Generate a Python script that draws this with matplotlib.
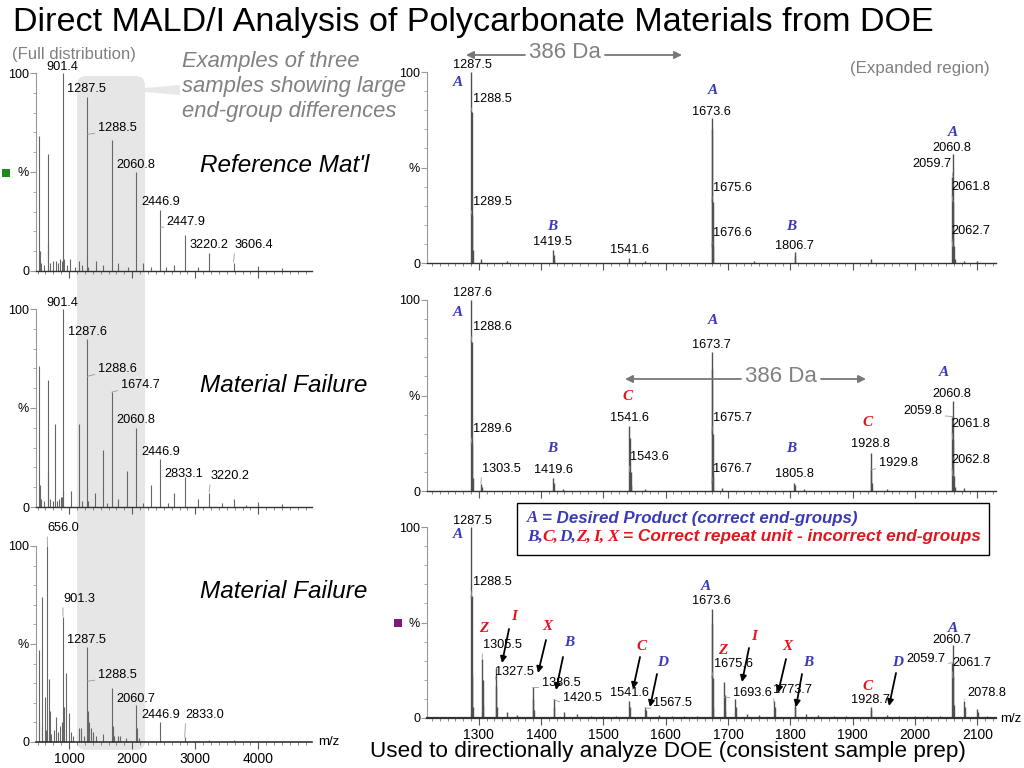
import matplotlib
matplotlib.use('Agg')
import matplotlib.pyplot as plt
from matplotlib.patches import FancyBboxPatch, Polygon, Rectangle, FancyArrowPatch
from matplotlib.ticker import MultipleLocator, FixedLocator
from matplotlib.transforms import Affine2D

# ---------------- data ----------------
# Left panels: full distribution (m/z, relative intensity %)
L1_MZ = [530, 535, 560, 600, 659, 668, 700, 740, 787, 830, 860, 880, 901.4, 915, 960, 1020, 1100, 1159, 1200,
         1287.5, 1305, 1422, 1541, 1673.6, 1782, 1928, 2060.8, 2168, 2300, 2446.9, 2540, 2669, 2833, 3050,
         3220.2, 3606.4, 3992, 4380]
L1_INT = [68, 10, 4, 3, 59, 14, 4, 5, 5, 4, 6, 5, 100, 6, 3, 6, 2, 5, 3,
          88, 2, 5, 3, 66, 4, 2, 50, 4, 2, 31, 2, 3, 18, 2,
          9, 4, 2.5, 1.5]
L2_MZ = [530, 535, 560, 600, 659, 665, 700, 740, 778, 800, 840, 870, 880, 901.4, 910, 1030, 1154, 1200,
         1287.6, 1300, 1417, 1535, 1600, 1674.7, 1782, 1912, 2060.8, 2168, 2298, 2446.9, 2560, 2670,
         2833.1, 3046, 3220.2, 3430, 3606, 3800, 3992, 4380]
L2_INT = [71, 11, 4, 3, 64, 18, 4, 3, 42, 3, 4, 5, 5, 100, 8, 8, 42, 3,
          85, 3, 7, 29, 2, 58, 4, 18, 40, 2, 11, 24, 2, 7,
          15, 4, 7, 2, 4, 1, 2.5, 1.5]
L3_MZ = [519, 525, 565, 575, 622, 640, 656.0, 674, 690, 720, 760, 798, 820, 855, 880, 901.3, 925, 953, 994,
         1030, 1060, 1159, 1190, 1240, 1287.5, 1302, 1320, 1345, 1386, 1420, 1541, 1673, 1690, 1711, 1773,
         1806, 1900, 2060.7, 2078, 2100, 2446.9, 2833.0, 3220, 3606, 3992]
L3_INT = [47, 10, 74, 8, 23, 6, 100, 32, 16, 4, 6, 13, 5, 8, 10, 64, 18, 35, 15,
          5, 3, 7, 7, 3, 48.6, 16, 10, 7, 5, 3, 4, 27.5, 8, 3, 3,
          3, 2, 19, 7, 2, 10, 2.5, 1.2, 1, 0.6]

# Right panels: expanded region
R1_MZ = [1287.5, 1288.5, 1289.5, 1290.5, 1303.5, 1345, 1419.5, 1420.5, 1421.5, 1541.6, 1567.5,
         1673.6, 1674.6, 1675.6, 1676.6, 1742, 1806.7, 1807.7, 1928.8,
         2059.7, 2060.8, 2061.8, 2062.7, 2063.7, 2078, 2100]
R1_INT = [100, 79, 25, 7, 2, 1.2, 6.6, 4, 1.5, 2.6, 1,
          76, 70, 32, 9, 1, 5.6, 3.5, 2,
          45, 57, 32, 9, 2, 1, 0.8]
R2_MZ = [1287.6, 1288.6, 1289.6, 1290.6, 1303.5, 1304.5, 1419.6, 1420.6, 1435, 1541.6, 1542.6, 1543.6,
         1544.6, 1567, 1673.7, 1674.7, 1675.7, 1676.7, 1691, 1805.8, 1806.8, 1822, 1928.8, 1929.8, 1930.8,
         1955, 2059.8, 2060.8, 2061.8, 2062.8, 2063.8, 2078]
R2_INT = [100, 78, 24.6, 7, 3.7, 2, 7, 4, 1, 34, 28, 10,
          3, 1.2, 73, 64, 30, 8, 1.5, 4.4, 3, 1, 20, 11, 4,
          1, 39, 47, 27, 8, 2, 1.5]
R3_MZ = [1287.5, 1288.5, 1289.5, 1290.5, 1305.5, 1306.5, 1307.5, 1327.5, 1328.5, 1329.5, 1345.5, 1362,
         1386.5, 1387.5, 1388.5, 1420.5, 1421.5, 1437, 1458, 1480, 1500, 1520, 1541.6, 1542.6,
         1567.5, 1568.5, 1590, 1610, 1630, 1650, 1673.6, 1674.6, 1675.6, 1676.6, 1693.6, 1694.6, 1695.6,
         1711.6, 1712.6, 1731, 1750, 1773.7, 1774.7, 1806.7, 1807.7, 1825, 1845, 1870, 1890,
         1928.7, 1929.7, 1955, 1975, 2000, 2020, 2040, 2059.7, 2060.7, 2061.7, 2062.7,
         2078.8, 2079.8, 2100, 2101, 2115]
R3_INT = [100, 64, 22, 6, 31, 20, 7, 26, 17, 6, 3, 1.5,
          16, 10, 4, 10, 6, 3, 2, 1, 1.2, 1, 9, 6,
          6, 4, 1.5, 1, 1.2, 1, 57, 50, 21, 6, 19, 12, 4,
          10, 6, 2, 1.5, 9, 6, 9.6, 6, 2, 1.5, 1, 1,
          6, 4, 1.5, 1, 1, 1, 1.2, 29, 38, 22, 7,
          9, 6, 4.5, 3, 1]

LEFT_XTICKS = [1000, 2000, 3000, 4000]
RIGHT_XTICKS = [1300, 1400, 1500, 1600, 1700, 1800, 1900, 2000, 2100]
Y_TICKS = [0, 50, 100]
Y_LABELS = ['0', '%', '100']

# ---------------- figure ----------------
W, H = 1024, 768
fig = plt.figure(figsize=(W / 100, H / 100), dpi=100)
SANS = ['Liberation Sans', 'DejaVu Sans']
SERIF = ['Liberation Serif', 'DejaVu Serif']
plt.rcParams['font.family'] = SANS
PX = Affine2D().scale(1 / W, 1 / H) + fig.transFigure

GRAY_TXT = '#808080'
BLUE = '#3a3ab8'
RED = '#e3141c'
PEAK = '#505050'
LBL = 9.2


def add_axes_px(x0, x1, ytop, ybot):
    return fig.add_axes([x0 / W, 1 - ybot / H, (x1 - x0) / W, (ybot - ytop) / H])


def style(ax, xlim, ticks, minor, show_labels, base_lw=1.0):
    ax.set_facecolor('none')
    ax.set_xlim(*xlim)
    ax.set_ylim(0, 100)
    for s in ['top', 'right']:
        ax.spines[s].set_visible(False)
    ax.spines['left'].set_color('#9a9a9a')
    ax.spines['left'].set_linewidth(0.8)
    ax.spines['bottom'].set_color('#333333')
    ax.spines['bottom'].set_linewidth(base_lw)
    ax.xaxis.set_major_locator(FixedLocator(ticks))
    ax.xaxis.set_minor_locator(MultipleLocator(minor))
    ax.yaxis.set_major_locator(FixedLocator(Y_TICKS))
    ax.set_yticklabels(Y_LABELS)
    ax.yaxis.set_minor_locator(MultipleLocator(10))
    ax.tick_params(axis='y', which='major', length=4, color='#9a9a9a', labelsize=9, pad=1)
    ax.tick_params(axis='y', which='minor', length=2, color='#9a9a9a')
    ax.tick_params(axis='x', which='major', length=5, color='#555555', labelsize=10, pad=2)
    ax.tick_params(axis='x', which='minor', length=2.5, color='#777777')
    if not show_labels:
        ax.tick_params(axis='x', labelbottom=False)


# background highlight band behind left panels
fig.add_artist(FancyBboxPatch((77, H - 750), 68, 674, boxstyle='round,pad=0,rounding_size=9',
                              transform=PX, facecolor='#e6e6e6', edgecolor='none', zorder=-2))
fig.add_artist(Polygon([(145, H - 88), (180, H - 85), (180, H - 95), (145, H - 92)], closed=True,
                       transform=PX, facecolor='#e8e8e8', edgecolor='none', zorder=-2))

LXLIM = (475, 4850)
RXLIM = (1217, 2130)

axL = [add_axes_px(36, 312, 73, 271), add_axes_px(36, 312, 309, 507), add_axes_px(36, 312, 546, 742)]
axR = [add_axes_px(427, 996, 72, 263), add_axes_px(427, 996, 300, 491), add_axes_px(427, 996, 527, 718)]

for i, ax in enumerate(axL):
    style(ax, LXLIM, LEFT_XTICKS, 125, i == 2, 1.2 if i == 2 else 1.0)
for i, ax in enumerate(axR):
    style(ax, RXLIM, RIGHT_XTICKS, 12.5, i == 2, 1.6 if i == 2 else 1.0)

for ax, mz, it in zip(axL, [L1_MZ, L2_MZ, L3_MZ], [L1_INT, L2_INT, L3_INT]):
    ax.vlines(mz, 0, it, color='#666666', lw=0.8, clip_on=False)
for ax, mz, it in zip(axR, [R1_MZ, R2_MZ, R3_MZ], [R1_INT, R2_INT, R3_INT]):
    ax.vlines(mz, 0, it, color=PEAK, lw=1.0, clip_on=False)


def plabel(ax, s, x, y, target=None, side='left', size=LBL):
    if target is None:
        fig.text(x, H - y, s, transform=PX, ha='center', va='center', fontsize=size, zorder=5)
    else:
        rel = (0, 0.1) if side == 'left' else (1, 0.1)
        ax.annotate(s, xy=target, xycoords='data', xytext=(x, H - y), textcoords=PX,
                    ha='center', va='center', fontsize=size, annotation_clip=False, zorder=5,
                    arrowprops=dict(arrowstyle='-', color='#999999', lw=0.6, shrinkA=0, shrinkB=0,
                                    relpos=rel))


# left panel labels
for s, x, y, t in [("901.4", 62, 67, None), ("1287.5", 87, 89, None), ("1288.5", 117, 128, (1287.5, 69)),
                   ("2060.8", 136, 165, None), ("2446.9", 161, 202, None),
                   ("2447.9", 186, 222, (2446.9, 22)), ("3220.2", 209, 245, None),
                   ("3606.4", 254, 245, (3606.4, 4.5))]:
    plabel(axL[0], s, x, y, t)
for s, x, y, t in [("901.4", 62, 303, None), ("1287.6", 87, 332, None), ("1288.6", 117, 369, (1287.6, 66)),
                   ("1674.7", 140, 385, (1674.7, 58)), ("2060.8", 136, 420, None), ("2446.9", 161, 452, None),
                   ("2833.1", 184, 474, None), ("3220.2", 230, 476, (3220.2, 7.5))]:
    plabel(axL[1], s, x, y, t)
for s, x, y, t in [("656.0", 63, 528, (656.0, 100)), ("901.3", 79, 599, (901.3, 64)),
                   ("1287.5", 87, 640, None), ("1288.5", 117, 675, (1287.5, 31)),
                   ("2060.7", 136, 699, None), ("2446.9", 161, 715, None), ("2833.0", 205, 715, (2833.0, 2.5))]:
    plabel(axL[2], s, x, y, t)

# right panel labels
for s, x, y, t, sd in [("1287.5", 472, 65, None, 'left'), ("1288.5", 492, 99, (1287.5, 79), 'left'),
                       ("1289.5", 492, 202, (1287.5, 25), 'left'), ("1419.5", 553, 242, None, 'left'),
                       ("1541.6", 629, 250, None, 'left'), ("1673.6", 711, 112, None, 'left'),
                       ("1675.6", 732, 188, (1673.6, 32), 'left'), ("1676.6", 732, 233, (1673.6, 8.5), 'left'),
                       ("1806.7", 794, 246, None, 'left'), ("2060.8", 952, 148, None, 'left'),
                       ("2059.7", 932, 164, (2060.8, 45), 'right'), ("2061.8", 971, 187, (2060.8, 32), 'left'),
                       ("2062.7", 971, 231, (2060.8, 8.5), 'left')]:
    plabel(axR[0], s, x, y, t, sd)
for s, x, y, t, sd in [("1287.6", 472, 293, None, 'left'), ("1288.6", 492, 327, (1287.6, 78), 'left'),
                       ("1289.6", 492, 429, (1287.6, 24.6), 'left'), ("1303.5", 501, 469, (1303.5, 3.7), 'left'),
                       ("1419.6", 553, 470, None, 'left'), ("1541.6", 629, 418, None, 'left'),
                       ("1543.6", 649, 457, (1541.6, 10), 'left'), ("1673.7", 711, 345, None, 'left'),
                       ("1675.7", 732, 418, (1673.7, 30), 'left'), ("1676.7", 732, 469, (1673.7, 4), 'left'),
                       ("1805.8", 794, 474, None, 'left'), ("1928.8", 870, 444, None, 'left'),
                       ("1929.8", 898, 463, (1928.8, 11), 'left'), ("2060.8", 952, 394, None, 'left'),
                       ("2059.8", 923, 411, (2060.8, 39), 'right'), ("2061.8", 971, 424, (2060.8, 27), 'left'),
                       ("2062.8", 971, 460, (2060.8, 8), 'left')]:
    plabel(axR[1], s, x, y, t, sd)
for s, x, y, t, sd in [("1287.5", 472, 521, None, 'left'), ("1288.5", 492, 582, (1287.5, 63), 'left'),
                       ("1305.5", 502, 645, (1305.5, 31), 'left'), ("1327.5", 515, 672, (1327.5, 20), 'left'),
                       ("1386.5", 561, 683, (1386.5, 16), 'left'), ("1420.5", 582, 698, (1420.5, 9.5), 'left'),
                       ("1541.6", 629, 693, None, 'left'), ("1567.5", 673, 703, (1567.5, 5), 'left'),
                       ("1673.6", 711, 601, None, 'left'), ("1675.6", 733, 664, (1673.6, 21), 'left'),
                       ("1693.6", 752, 693, (1693.6, 11), 'left'), ("1773.7", 793, 690, (1773.7, 8), 'left'),
                       ("1928.7", 870, 700, None, 'left'), ("2060.7", 952, 640, None, 'left'),
                       ("2059.7", 926, 659, (2060.7, 29), 'right'), ("2061.7", 972, 663, (2060.7, 21), 'left'),
                       ("2078.8", 987, 693, (2078.8, 9.5), 'left')]:
    plabel(axR[2], s, x, y, t, sd)

# group letters
LETTERS = [("A", BLUE, 458, 82), ("A", BLUE, 713, 91), ("A", BLUE, 953, 133), ("B", BLUE, 552, 227),
           ("B", BLUE, 791, 227),
           ("A", BLUE, 458, 313), ("A", BLUE, 713, 321), ("A", BLUE, 944, 372), ("C", RED, 628, 397),
           ("C", RED, 868, 423), ("B", BLUE, 552, 448), ("B", BLUE, 791, 448),
           ("A", BLUE, 458, 534), ("Z", RED, 484, 628), ("I", RED, 514, 617), ("X", RED, 547, 627),
           ("B", BLUE, 569, 643), ("C", RED, 642, 647), ("D", BLUE, 663, 663), ("A", BLUE, 706, 586),
           ("Z", RED, 723, 651), ("I", RED, 754, 637), ("X", RED, 787, 647), ("B", BLUE, 808, 663),
           ("C", RED, 868, 687), ("D", BLUE, 898, 663), ("A", BLUE, 953, 628)]
for s, c, x, y in LETTERS:
    fig.text(x, H - y, s, transform=PX, ha='center', va='center', color=c, fontsize=11,
             family=SERIF, fontweight='bold', fontstyle='italic', zorder=6)

for (x0, y0), (x1, y1) in [((509, 629), (502, 663)), ((546, 640), (538, 673)), ((563, 657), (556, 690)),
                           ((640, 657), (633, 689)), ((657, 674), (650, 707)), ((749, 648), (742, 682)),
                           ((786, 659), (778, 693)), ((802, 674), (796, 707)), ((896, 673), (889, 706))]:
    fig.add_artist(FancyArrowPatch((x0, H - y0), (x1, H - y1), transform=PX, arrowstyle='-|>',
                                   mutation_scale=9, color='black', lw=1.3, shrinkA=0, shrinkB=0, zorder=6))

# 386 Da arrows
for tx, ty, xl, xr, yl in [(565, 52, 466, 682, 55), (781, 377, 625, 866, 379)]:
    fig.text(tx, H - ty, "386 Da", transform=PX, ha='center', va='center', fontsize=16, color=GRAY_TXT)
    fig.add_artist(FancyArrowPatch((tx - 40, H - yl), (xl, H - yl), transform=PX, arrowstyle='-|>',
                                   mutation_scale=11, color='#777777', lw=1.3, shrinkA=0, shrinkB=0))
    fig.add_artist(FancyArrowPatch((tx + 40, H - yl), (xr, H - yl), transform=PX, arrowstyle='-|>',
                                   mutation_scale=11, color='#777777', lw=1.3, shrinkA=0, shrinkB=0))

# texts
fig.text(13, H - 22, "Direct MALD/I Analysis of Polycarbonate Materials from DOE", transform=PX,
         ha='left', va='center', fontsize=24.6)
fig.text(12, H - 54, "(Full distribution)", transform=PX, ha='left', va='center', fontsize=12,
         color=GRAY_TXT)
fig.text(920, H - 69, "(Expanded region)", transform=PX, ha='center', va='center', fontsize=12.2,
         color=GRAY_TXT)
for i, line in enumerate(["Examples of three", "samples showing large", "end-group differences"]):
    fig.text(182, H - (61 + 25.5 * i), line, transform=PX, ha='left', va='center', fontsize=15.8,
             fontstyle='italic', color=GRAY_TXT)
fig.text(200, H - 165, "Reference Mat'l", transform=PX, ha='left', va='center', fontsize=17.5,
         fontstyle='italic')
fig.text(200, H - 386, "Material Failure", transform=PX, ha='left', va='center', fontsize=17.5,
         fontstyle='italic')
fig.text(200, H - 591, "Material Failure", transform=PX, ha='left', va='center', fontsize=17.5,
         fontstyle='italic')
fig.text(370, H - 752, "Used to directionally analyze DOE (consistent sample prep)", transform=PX,
         ha='left', va='center', fontsize=16.2)
fig.text(318, H - 742, "m/z", transform=PX, ha='left', va='center', fontsize=9.5)
fig.text(1000, H - 719, "m/z", transform=PX, ha='left', va='center', fontsize=9.5)

# colored squares
fig.add_artist(Rectangle((2, H - 177), 8, 8, transform=PX, facecolor='#1c8a1c', edgecolor='none'))
fig.add_artist(Rectangle((394, H - 627), 8, 8, transform=PX, facecolor='#7d1a80', edgecolor='none'))

# legend box
fig.add_artist(Rectangle((517, H - 555), 472, 52, transform=PX, facecolor='white', edgecolor='black',
                         lw=1.0, zorder=4))

renderer = fig.canvas.get_renderer()


def rich(pieces, x, y, size):
    cur = x
    for txt, color, fam, gap in pieces:
        t = fig.text(cur, H - y, txt, transform=PX, ha='left', va='center', fontsize=size, color=color,
                     family=fam, fontweight='bold', fontstyle='italic', zorder=7)
        cur += t.get_window_extent(renderer).width + gap


rich([("A", BLUE, SERIF, 4), ("= Desired Product (correct end-groups)", BLUE, SANS, 0)], 527, 518, 12.2)
rich([("B,", BLUE, SERIF, 0), ("C,", RED, SERIF, 0), ("D,", BLUE, SERIF, 0), ("Z,", RED, SERIF, 3),
      ("I,", RED, SERIF, 3), ("X", RED, SERIF, 4),
      ("= Correct repeat unit - incorrect end-groups", RED, SANS, 0)], 527, 537, 12.4)

fig.savefig('out.png', dpi=100)
